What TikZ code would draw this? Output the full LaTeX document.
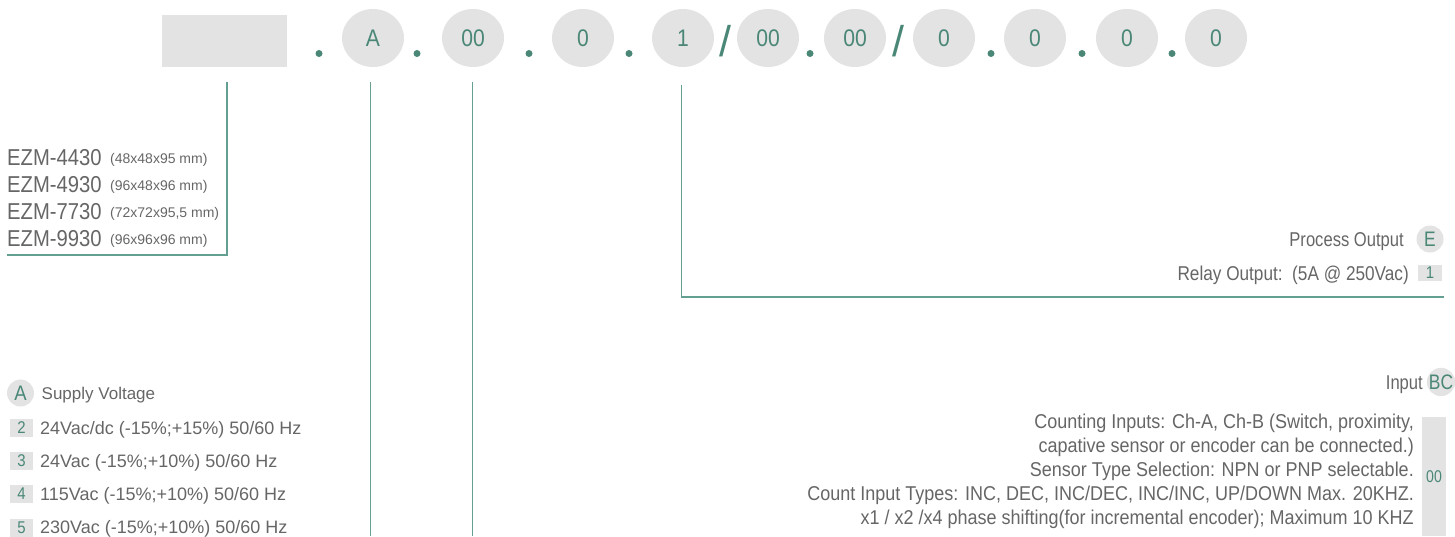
\documentclass[tikz,border=0pt]{standalone}
\usepackage{fontspec}
\setmainfont{Liberation Sans}
\newfontfamily\condf[FakeStretch=0.83]{Liberation Sans}
\newfontfamily\relf[FakeStretch=0.86]{Liberation Sans}
\newfontfamily\semif[FakeStretch=0.88]{Liberation Sans}
\newfontfamily\cntf[FakeStretch=0.9]{Liberation Sans}
\usetikzlibrary{shapes.geometric}
\definecolor{codegreen}{HTML}{4A8777}
\definecolor{linegreen}{HTML}{64A092}
\definecolor{pill}{HTML}{E3E3E3}
\definecolor{txt}{HTML}{666666}
\begin{document}
\begin{tikzpicture}[x=1pt,y=-1pt,
  code/.style={ellipse, fill=pill, minimum width=62pt, minimum height=58pt, inner sep=0pt,
    text=codegreen, font=\semif\fontsize{24}{26}\selectfont},
  sepdot/.style={circle, fill=codegreen, minimum size=7pt, inner sep=0pt},
  slash/.style={inner sep=0pt, text=codegreen, font=\fontsize{43}{45}\selectfont},
  conn/.style={draw=linegreen, line width=1.6pt},
  ezm/.style={anchor=west, inner sep=0pt, text=txt, text height=16.5pt, text depth=0pt,
    font=\semif\fontsize{23}{25}\selectfont},
  dim/.style={anchor=west, inner sep=0pt, text=txt, text height=10pt, text depth=0pt,
    font=\fontsize{14}{16}\selectfont},
  supply/.style={anchor=west, inner sep=0pt, text=txt, text height=12.9pt, text depth=0pt,
    font=\fontsize{18}{20}\selectfont},
  rlbl/.style={anchor=east, inner sep=0pt, text=txt, text height=14.3pt, text depth=0pt,
    font=\condf\fontsize{20}{22}\selectfont},
  cnt/.style={anchor=east, inner sep=0pt, text=txt, text height=14.3pt, text depth=0pt,
    font=\cntf\fontsize{20}{22}\selectfont},
  keybox/.style={fill=pill, inner sep=0pt, text=codegreen, font=\semif\fontsize{17}{19}\selectfont},
  keycirc/.style={circle, fill=pill, inner sep=0pt, minimum size=27pt, text=codegreen,
    font=\condf\fontsize{21}{23}\selectfont},
]
\useasboundingbox (0,0) rectangle (1455,536);

% top code row
\node[fill=pill, minimum width=125pt, minimum height=52pt, inner sep=0pt] (model) at (224.5,41) {};
\node[sepdot] (d1) at (319,53.5) {};
\node[code] (cA) at (373,38) {A};
\node[sepdot] (d2) at (417,53.5) {};
\node[code] (cB) at (473,38) {00};
\node[sepdot] (d3) at (529,53.5) {};
\node[code] (cC) at (583,38) {0};
\node[sepdot] (d4) at (629,53.5) {};
\node[code] (cD) at (683,38) {1};
\node[slash] (s1) at (725,41) {/};
\node[code] (cE) at (768,38) {00};
\node[sepdot] (d5) at (810,53.5) {};
\node[code] (cF) at (855,38) {00};
\node[slash] (s2) at (898.5,41) {/};
\node[code] (cG) at (944,38) {0};
\node[sepdot] (d6) at (991,53.5) {};
\node[code] (cH) at (1035,38) {0};
\node[sepdot] (d7) at (1082,53.5) {};
\node[code] (cI) at (1127,38) {0};
\node[sepdot] (d8) at (1172,53.5) {};
\node[code] (cJ) at (1216,38) {0};

% connector coordinates
\coordinate (m1) at (227,82);
\coordinate (m2) at (227,255);
\coordinate (m3) at (7,255);
\coordinate (a1) at (370.5,82);
\coordinate (a2) at (370.5,536);
\coordinate (b1) at (472.5,82);
\coordinate (b2) at (472.5,536);
\coordinate (e1) at (681.5,85);
\coordinate (e2) at (681.5,297);
\coordinate (e3) at (1444,297);

\draw[conn] (m1) -- (m2) -- (m3);
\draw[conn] (a1) -- (a2);
\draw[conn] (b1) -- (b2);
\draw[conn] (e1) -- (e2) -- (e3);

% model list
\node[ezm] (z1) at (7,157) {EZM-4430};
\node[ezm] (z2) at (7,184) {EZM-4930};
\node[ezm] (z3) at (7,211) {EZM-7730};
\node[ezm] (z4) at (7,238) {EZM-9930};
\node[dim] (y1) at (110,158) {(48x48x95 mm)};
\node[dim] (y2) at (110,185) {(96x48x96 mm)};
\node[dim] (y3) at (110,212) {(72x72x95,5 mm)};
\node[dim] (y4) at (110,239) {(96x96x96 mm)};

% supply voltage
\node[keycirc, font=\semif\fontsize{21}{23}\selectfont] (kA) at (20.5,393) {A};
\node[supply, font=\fontsize{17}{19}\selectfont, text height=12.2pt] (tA) at (41.5,393) {Supply Voltage};
\node[keybox, minimum width=23pt, minimum height=18pt] (k2) at (21.5,428) {2};
\node[supply] (t2) at (40,428) {24Vac/dc (-15\%;+15\%) 50/60 Hz};
\node[keybox, minimum width=23pt, minimum height=18pt] (k3) at (21.5,461) {3};
\node[supply] (t3) at (40,461) {24Vac (-15\%;+10\%) 50/60 Hz};
\node[keybox, minimum width=23pt, minimum height=18pt] (k4) at (21.5,494) {4};
\node[supply] (t4) at (40,494) {115Vac (-15\%;+10\%) 50/60 Hz};
\node[keybox, minimum width=23pt, minimum height=18pt] (k5) at (21.5,527.5) {5};
\node[supply] (t5) at (40,527.5) {230Vac (-15\%;+10\%) 50/60 Hz};

% process output
\node[rlbl] (po) at (1404,239) {Process Output};
\node[keycirc] (kE) at (1430,239) {E};
\node[rlbl, font=\relf\fontsize{20}{22}\selectfont] (ro) at (1409,273) {Relay Output:\ \ (5A @ 250Vac)};
\node[keybox, minimum width=24pt, minimum height=16pt] (k1) at (1430,273) {1};

% input
\node[rlbl] (in) at (1423,382) {Input};
\node[keycirc, minimum size=26pt] (kBC) at (1441,382) {BC};
\node[cnt] (c1) at (1414,421) {Counting Inputs: Ch-A, Ch-B (Switch, proximity,};
\node[cnt] (c2) at (1414,445) {capative sensor or encoder can be connected.)};
\node[cnt] (c3) at (1414,469) {Sensor Type Selection: NPN or PNP selectable.};
\node[cnt] (c4) at (1414,493) {Count Input Types: INC, DEC, INC/DEC, INC/INC, UP/DOWN Max. 20KHZ.};
\node[cnt] (c5) at (1414,517) {x1 / x2 /x4 phase shifting(for incremental encoder); Maximum 10 KHZ};
\node[keybox, minimum width=24pt, minimum height=119pt, anchor=north] (k00) at (1434,417) {};
\node[inner sep=0pt, text=codegreen, font=\condf\fontsize{17}{19}\selectfont] (t00) at (1434,477) {00};
\end{tikzpicture}
\end{document}
